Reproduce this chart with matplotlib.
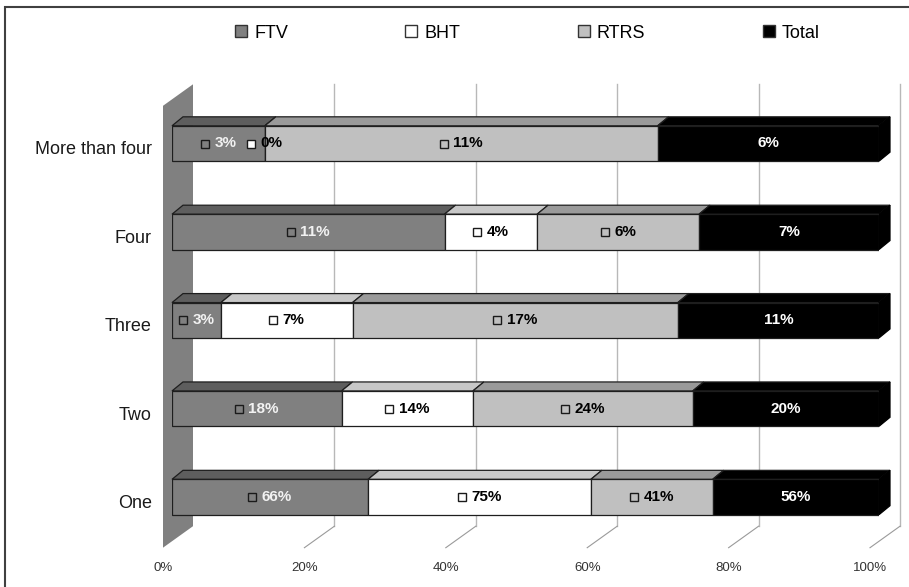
import numpy as np
import matplotlib
matplotlib.use('Agg')
import matplotlib.pyplot as plt
from matplotlib.patches import Polygon, Rectangle
from matplotlib.offsetbox import AnnotationBbox, HPacker, TextArea, DrawingArea

# data (labels show rounded values, bar widths follow the unrounded ones)
categories = ['One', 'Two', 'Three', 'Four', 'More than four']
series = ['FTV', 'BHT', 'RTRS', 'Total']
ftv = [66, 18.2, 2.6, 10.6, 2.6]
bht = [75, 14.1, 7.0, 3.6, 0]
rtrs = [41, 23.6, 17.3, 6.3, 11.0]
total = [56, 20.0, 10.7, 7.0, 6.2]
x_ticks = [0, 20, 40, 60, 80, 100]
x_tick_labels = ['0%', '20%', '40%', '60%', '80%', '100%']

# styles
face_colors = ['#808080', '#ffffff', '#c0c0c0', '#000000']
top_colors = ['#5e5e5e', '#c8c8c8', '#9a9a9a', '#000000']
label_colors = ['#f2f2f2', '#000000', '#000000', '#ffffff']
show_key = [True, True, True, False]

plt.rcParams['font.family'] = ['Liberation Sans', 'DejaVu Sans']

W, H = 909, 587
fig = plt.figure(figsize=(W / 100, H / 100), dpi=100)
ax = fig.add_axes([172 / W, (H - 541.2) / H, 707 / W, (541.2 - 99.3) / H])
ax.set_xlim(0, 100)
ax.set_ylim(-0.5, 4.5)
ax.axis('off')


def px(dx, dy):
    # pixel offset -> data offset
    s = ax.transData.transform((1, 1)) - ax.transData.transform((0, 0))
    return dx / s[0], dy / s[1]


fx, fy = px(-9, -6.5)    # front plane
bx, by = px(21, 15)      # back plane
dx, dy = px(11, 9)       # bar depth
ylo, yhi = ax.get_ylim()

values = np.array([ftv, bht, rtrs, total], dtype=float)
pct = values / values.sum(axis=0) * 100
left = np.cumsum(pct, axis=0) - pct
ypos = np.arange(len(categories))

# wall
wall = Polygon([(fx, ylo + fy), (bx, ylo + by), (bx, yhi + by), (fx, yhi + fy)],
               closed=True, fc='#808080', ec='none', clip_on=False, zorder=1)
ax.add_patch(wall)

# gridlines on back wall + floor lines + tick labels
for t, lab in zip(x_ticks, x_tick_labels):
    if t > 0:
        ax.plot([t + bx, t + bx], [ylo + by, yhi + by], color='#b8b8b8', lw=1,
                zorder=0.5, clip_on=False)
        ax.plot([t + fx, t + bx], [ylo + fy, ylo + by], color='#9a9a9a', lw=0.8,
                zorder=0.5, clip_on=False)
    ax.text(t + fx, ylo + fy + px(0, -20)[1], lab, ha='center', va='center',
            fontsize=9.5, color='#333333')

# category labels
for i, cat in enumerate(categories):
    ax.text(fx + px(-11, 0)[0], i + fy, cat, ha='right', va='center',
            fontsize=13, color='#1a1a1a')

bar_h = 0.4
for j in range(len(series)):
    ax.barh(ypos, pct[j], left=left[j], height=bar_h, color=face_colors[j],
            edgecolor='#1e1e1e', lw=0.9, zorder=3)
    for i in ypos:
        x0 = left[j][i]
        x1 = x0 + pct[j][i]
        yt = i + bar_h / 2
        top = Polygon([(x0, yt), (x1, yt), (x1 + dx, yt + dy), (x0 + dx, yt + dy)],
                      closed=True, fc=top_colors[j], ec='#1e1e1e', lw=0.9,
                      zorder=2.5, clip_on=False)
        ax.add_patch(top)

# right side face of the last segment
for i in ypos:
    yb, yt = i - bar_h / 2, i + bar_h / 2
    side = Polygon([(100, yb), (100, yt), (100 + dx, yt + dy), (100 + dx, yb + dy)],
                   closed=True, fc='#000000', ec='#000000', lw=0.9,
                   zorder=2.5, clip_on=False)
    ax.add_patch(side)

# data labels
for j in range(len(series)):
    for i in ypos:
        xc = left[j][i] + pct[j][i] / 2
        ta = TextArea(f'{values[j][i]:.0f}%',
                      textprops=dict(color=label_colors[j], fontsize=11,
                                     fontweight='bold'))
        if show_key[j]:
            da = DrawingArea(6.5, 6.5)
            da.add_artist(Rectangle((0.3, 0.3), 5.8, 5.8, fc=face_colors[j],
                                    ec='#1a1a1a', lw=1))
            box = HPacker(children=[da, ta], align='center', pad=0, sep=3.5)
        else:
            box = ta
        ab = AnnotationBbox(box, (xc, i), frameon=False,
                            box_alignment=(0.5, 0.5), zorder=5)
        ax.add_artist(ab)

# legend
handles = [Rectangle((0, 0), 1, 1, fc=c, ec='#333333', lw=1) for c in face_colors]
fig.legend(handles, series, loc='center', bbox_to_anchor=(527.5 / W, 1 - 33 / H),
           ncol=4, frameon=False, fontsize=13, handlelength=0.66, handleheight=0.6,
           handletextpad=0.4, columnspacing=6.5)

# outer frame (left and top edges visible)
frame = Rectangle((5 / W, -0.1), 1.2, (H - 7) / H + 0.1, transform=fig.transFigure,
                  fill=False, ec='#404040', lw=1.5)
fig.add_artist(frame)

fig.savefig('out.png', dpi=100)
